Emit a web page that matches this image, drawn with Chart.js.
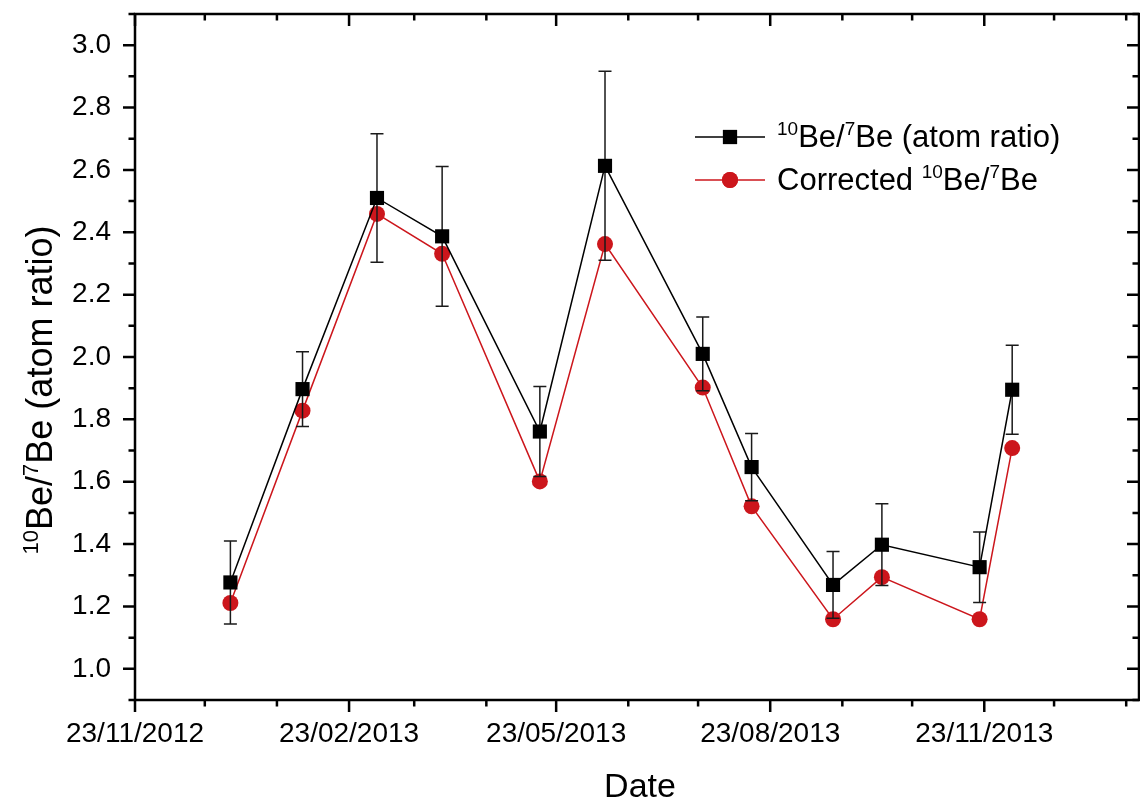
<!DOCTYPE html>
<html>
<head>
<meta charset="utf-8">
<script src="https://cdn.jsdelivr.net/npm/chart.js@4.4.1/dist/chart.umd.min.js"></script>
<style>
  html, body { margin: 0; padding: 0; background: #fff; overflow: hidden; }
  canvas { display: block; }
</style>
</head>
<body>
<canvas id="chart" width="1140" height="799"></canvas>
<script>
// sampling dates and values
const sampleDates = ['2013-01-03', '2013-02-03', '2013-03-07', '2013-04-04', '2013-05-16', '2013-06-13',
                     '2013-07-25', '2013-08-15', '2013-09-19', '2013-10-10', '2013-11-21', '2013-12-05'];
const ratioValues = [1.277, 1.897, 2.510, 2.387, 1.761, 2.613, 2.010, 1.647, 1.269, 1.398, 1.326, 1.895];
const ratioErrors = [0.133, 0.120, 0.206, 0.224, 0.144, 0.303, 0.118, 0.108, 0.107, 0.131, 0.113, 0.143];
const correctedValues = [1.211, 1.828, 2.459, 2.331, 1.601, 2.362, 1.902, 1.521, 1.159, 1.294, 1.159, 1.708];

const xTickLabels = ['23/11/2012', '23/02/2013', '23/05/2013', '23/08/2013', '23/11/2013'];
const yTickLabels = ['1.0', '1.2', '1.4', '1.6', '1.8', '2.0', '2.2', '2.4', '2.6', '2.8', '3.0'];

// text with superscripts: [text, isSuperscript]
const ratioLabel = [['10', true], ['Be/', false], ['7', true], ['Be (atom ratio)', false]];
const correctedLabel = [['Corrected ', false], ['10', true], ['Be/', false], ['7', true], ['Be', false]];
const yTitle = [['10', true], ['Be/', false], ['7', true], ['Be (atom ratio)', false]];
const xTitle = 'Date';

const FONT = "'Liberation Sans', Arial, Helvetica, sans-serif";
const RED = 'rgb(204,22,28)';
const DAY = 86400000;
const PLOT_RIGHT = 1139;

function parseDmy(s) {
    const p = s.split('/');
    return Date.UTC(+p[2], +p[1] - 1, +p[0]);
}
const startTime = parseDmy(xTickLabels[0]);
function toDay(iso) {
    const p = iso.split('-');
    return (Date.UTC(+p[0], +p[1] - 1, +p[2]) - startTime) / DAY;
}

const xMax = 431.5;
const xMajor = xTickLabels.map(s => (parseDmy(s) - startTime) / DAY);
// monthly minor ticks on the 23rd
const xMinor = [];
for (let m = 0; m < 16; m++) {
    const d = (Date.UTC(2012, 10 + m, 23) - startTime) / DAY;
    if (d <= xMax && xMajor.indexOf(d) < 0) xMinor.push(d);
}
const yMajor = yTickLabels.map(Number);
const yMinor = [];
for (let k = 9; k <= 31; k += 2) yMinor.push(k / 10);

const days = sampleDates.map(toDay);

function richWidth(ctx, parts, size) {
    let w = 0;
    parts.forEach(([t, sup]) => {
        ctx.font = (sup ? Math.round(size * 0.6) : size) + 'px ' + FONT;
        w += ctx.measureText(t).width;
    });
    return w;
}
function drawRich(ctx, parts, x, y, size) {
    ctx.textAlign = 'left';
    ctx.textBaseline = 'alphabetic';
    parts.forEach(([t, sup]) => {
        ctx.font = (sup ? Math.round(size * 0.6) : size) + 'px ' + FONT;
        ctx.fillText(t, x, sup ? y - size * 0.4 : y);
        x += ctx.measureText(t).width;
    });
}

function noPadding(s) {
    s.paddingTop = 0; s.paddingBottom = 0; s.paddingLeft = 0; s.paddingRight = 0;
}

// the layout keeps ~10px free on the right; stretch the plot to the frame edge
const stretchRight = {
    id: 'stretchRight',
    afterLayout(chart) {
        const x = chart.scales.x;
        chart.chartArea.right = PLOT_RIGHT;
        chart.chartArea.width = PLOT_RIGHT - chart.chartArea.left;
        x.right = PLOT_RIGHT;
        x.width = PLOT_RIGHT - x.left;
        x.configure();
    }
};

const errorBars = {
    id: 'errorBars',
    beforeDatasetDraw(chart, args) {
        if (args.index !== 0) return;
        const {ctx, scales: {x, y}} = chart;
        ctx.save();
        ctx.strokeStyle = '#1a1a1a';
        ctx.lineWidth = 1.5;
        days.forEach((d, i) => {
            const px = x.getPixelForValue(d);
            const top = y.getPixelForValue(ratioValues[i] + ratioErrors[i]);
            const bot = y.getPixelForValue(ratioValues[i] - ratioErrors[i]);
            ctx.beginPath();
            ctx.moveTo(px, top); ctx.lineTo(px, bot);
            ctx.moveTo(px - 6.5, top); ctx.lineTo(px + 6.5, top);
            ctx.moveTo(px - 6.5, bot); ctx.lineTo(px + 6.5, bot);
            ctx.stroke();
        });
        ctx.restore();
    }
};

const frame = {
    id: 'frame',
    afterDraw(chart) {
        const {ctx, chartArea: a, scales: {x, y}} = chart;
        ctx.save();
        ctx.strokeStyle = '#000';
        ctx.lineWidth = 2.5;
        ctx.beginPath();
        ctx.rect(a.left, a.top, a.right - a.left, a.bottom - a.top);
        ctx.stroke();
        ctx.beginPath();
        const xt = (vals, len) => vals.forEach(v => {
            const p = x.getPixelForValue(v);
            ctx.moveTo(p, a.bottom); ctx.lineTo(p, a.bottom + len);
            ctx.moveTo(p, a.top); ctx.lineTo(p, a.top + len);
        });
        const yt = (vals, len) => vals.forEach(v => {
            const p = y.getPixelForValue(v);
            ctx.moveTo(a.left, p); ctx.lineTo(a.left - len, p);
            ctx.moveTo(a.right, p); ctx.lineTo(a.right - len, p);
        });
        xt(xMajor, 12); xt(xMinor, 6.5);
        yt(yMajor, 12); yt(yMinor, 6.5);
        ctx.stroke();

        // legend
        const rows = [
            {parts: ratioLabel, color: '#000', style: 'rect', y: 137},
            {parts: correctedLabel, color: RED, style: 'circle', y: 180}
        ];
        rows.forEach(r => {
            ctx.strokeStyle = r.color;
            ctx.lineWidth = 1.5;
            ctx.beginPath();
            ctx.moveTo(695, r.y); ctx.lineTo(765, r.y);
            ctx.stroke();
            ctx.fillStyle = r.color;
            Chart.helpers.drawPoint(ctx, {pointStyle: r.style, radius: r.style === 'rect' ? 10 : 8, borderWidth: 0}, 730, r.y);
            ctx.fill();
            ctx.fillStyle = '#000';
            drawRich(ctx, r.parts, 777, r.y + 10, 31);
        });

        // axis titles
        ctx.fillStyle = '#000';
        ctx.font = '34px ' + FONT;
        ctx.textAlign = 'center';
        ctx.textBaseline = 'alphabetic';
        ctx.fillText(xTitle, 640, 797);

        const w = richWidth(ctx, yTitle, 36);
        ctx.translate(52, 390);
        ctx.rotate(-Math.PI / 2);
        drawRich(ctx, yTitle, -w / 2, 0, 36);
        ctx.restore();
    }
};

const ctx = document.getElementById('chart');
const chart = new Chart(ctx, {
    type: 'line',
    data: {
        datasets: [{
            label: '10Be/7Be (atom ratio)',
            data: days.map((d, i) => ({x: d, y: ratioValues[i]})),
            borderColor: '#000',
            backgroundColor: '#000',
            borderWidth: 1.5,
            pointStyle: 'rect',
            pointRadius: 10,
            pointBorderWidth: 0,
            tension: 0
        }, {
            label: 'Corrected 10Be/7Be',
            data: days.map((d, i) => ({x: d, y: correctedValues[i]})),
            borderColor: RED,
            backgroundColor: RED,
            borderWidth: 1.5,
            pointStyle: 'circle',
            pointRadius: 8,
            pointBorderWidth: 0,
            tension: 0
        }]
    },
    options: {
        responsive: false,
        animation: false,
        layout: {padding: {top: 14, right: 1, left: 0, bottom: 0}},
        plugins: {
            legend: {display: false},
            tooltip: {enabled: false}
        },
        scales: {
            x: {
                type: 'linear',
                min: 0,
                max: xMax,
                grid: {display: false, drawTicks: false},
                border: {display: false},
                afterBuildTicks: s => { s.ticks = xMajor.map(v => ({value: v})); },
                afterFit: s => { s.height = 99; noPadding(s); },
                ticks: {
                    font: {family: FONT, size: 28},
                    color: '#000',
                    padding: 17,
                    maxRotation: 0,
                    autoSkip: false,
                    callback: (v, i) => xTickLabels[i]
                }
            },
            y: {
                min: 0.9,
                max: 3.1,
                grid: {display: false, drawTicks: false},
                border: {display: false},
                afterBuildTicks: s => { s.ticks = yMajor.map(v => ({value: v})); },
                afterFit: s => { s.width = 135; noPadding(s); },
                ticks: {
                    font: {family: FONT, size: 28},
                    color: '#000',
                    padding: 24,
                    callback: (v, i) => yTickLabels[i]
                }
            }
        }
    },
    plugins: [stretchRight, errorBars, frame]
});
</script>
</body>
</html>
